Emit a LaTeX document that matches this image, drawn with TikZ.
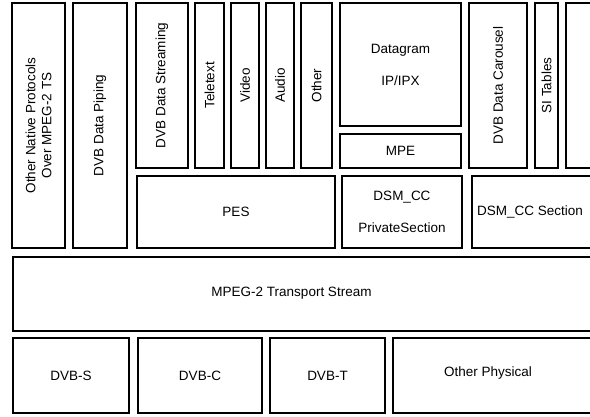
\documentclass[tikz,border=0pt]{standalone}
\usepackage{fontspec}
\setmainfont{Liberation Sans}
\newcommand{\laysize}{\fontsize{13.5}{16}\selectfont}
\tikzset{
  lay/.style={draw, line width=1.1pt, inner sep=0pt, align=center, font=\laysize},
  col/.style={lay, rotate=90},
  tag/.style={inner sep=0pt, font=\laysize}
}

\begin{document}
\begin{tikzpicture}[x=1pt, y=-1pt]
  \useasboundingbox (0,0) rectangle (590,417);
  \clip (0,0) rectangle (590,417);

  % Top row (upper protocols)
  \node[col, minimum width=245pt, minimum height=53pt] (natv) at (38.5,125.5) {Other Native Protocols\\Over MPEG-2 TS};
  \node[col, minimum width=245pt, minimum height=54pt] (pipe) at (100,125.5) {DVB Data Piping};
  \node[col, minimum width=165pt, minimum height=52pt] (strm) at (162,85.5) {DVB Data Streaming};
  \node[col, minimum width=165pt, minimum height=29pt] (ttx) at (209.5,85.5) {Teletext};
  \node[col, minimum width=165pt, minimum height=28pt] (vid) at (245,85.5) {Video};
  \node[col, minimum width=165pt, minimum height=28pt] (aud) at (280,85.5) {Audio};
  \node[col, minimum width=165pt, minimum height=31pt] (oth) at (316.5,85.5) {Other};
  \node[lay, minimum width=121pt, minimum height=123pt] (dgram) at (400.5,64.5) {Datagram\\[16pt]IP/IPX};
  \node[lay, minimum width=121pt, minimum height=34pt] (mpe) at (400.5,151) {MPE};
  \node[col, minimum width=165pt, minimum height=58pt] (carou) at (498,85.5) {DVB Data Carousel};
  \node[col, minimum width=165pt, minimum height=23pt] (sitab) at (546.5,85.5) {SI Tables};
  \node[col, minimum width=165pt, minimum height=60pt] (more) at (596,85.5) {};

  % Sections
  \node[lay, minimum width=198pt, minimum height=72pt] (pes) at (236,212) {PES};
  \node[lay, minimum width=120pt, minimum height=72pt] (dsmp) at (402,212) {DSM\_CC\\[16pt]PrivateSection};
  \node[lay, minimum width=168pt, minimum height=72pt] (dsms) at (556,212) {};
  \node[tag] (dsmsl) at (530,212) {DSM\_CC Section};

  % Transport stream
  \node[lay, minimum width=627pt, minimum height=74pt] (ts) at (326.5,294) {};
  \node[tag] (tsl) at (291.5,293) {MPEG-2 Transport Stream};

  % Physical layer
  \node[lay, minimum width=116pt, minimum height=75pt] (dvbs) at (71,375.5) {DVB-S};
  \node[lay, minimum width=124pt, minimum height=75pt] (dvbc) at (200,375.5) {DVB-C};
  \node[lay, minimum width=115pt, minimum height=75pt] (dvbt) at (327.5,375.5) {DVB-T};
  \node[lay, minimum width=257pt, minimum height=75pt] (ophy) at (521.5,375.5) {};
  \node[tag] (ophyl) at (488,373) {Other Physical};
\end{tikzpicture}
\end{document}
